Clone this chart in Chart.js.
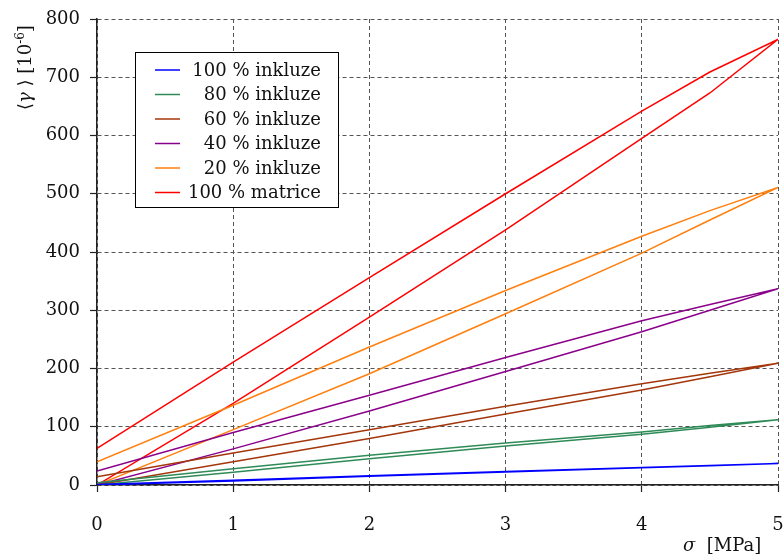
<!DOCTYPE html>
<html>
<head>
<meta charset="utf-8">
<script src="https://cdn.jsdelivr.net/npm/chart.js@4.4.1/dist/chart.umd.min.js"></script>
<style>
  html, body { margin: 0; padding: 0; background: #fff; }
  #wrap { width: 783px; height: 558px; position: relative; }
</style>
</head>
<body>
<div id="wrap"><canvas id="chart"></canvas></div>
<script>
// stress levels (MPa) where the loops were read
const sigma = [0, 1, 2, 3, 4, 4.5, 5];

// loading branch (lower) and unloading branch (upper), values in 1e-6
const inkluze100Load   = [0, 7, 15, 22.5, 29.5, 33, 37];
const inkluze100Unload = [1, 8, 16, 23, 30, 33.5, 37];
const inkluze80Load    = [0, 22, 45, 67, 87, 99, 112];
const inkluze80Unload  = [4, 28, 51, 72, 91, 102, 112];
const inkluze60Load    = [0, 40, 80, 122, 163, 186, 209];
const inkluze60Unload  = [14, 55, 95, 135, 174, 192, 209];
const inkluze40Load    = [0, 62, 127, 195, 263, 300, 337];
const inkluze40Unload  = [24, 90, 154, 219, 282, 310, 337];
const inkluze20Load    = [0, 95, 191, 294, 398, 455, 511];
const inkluze20Unload  = [40, 137, 237, 334, 427, 471, 511];
const matriceLoad      = [0, 140, 288, 438, 595, 673, 765];
const matriceUnload    = [63, 211, 356, 500, 642, 709, 765];

const labels = ['100 % inkluze', '80 % inkluze', '60 % inkluze', '40 % inkluze', '20 % inkluze', '100 % matrice'];
const colors = ['#0000ff', '#2e8b57', '#a3360b', '#8b008b', '#ff7f0e', '#ff0000'];
const loads = [inkluze100Load, inkluze80Load, inkluze60Load, inkluze40Load, inkluze20Load, matriceLoad];
const unloads = [inkluze100Unload, inkluze80Unload, inkluze60Unload, inkluze40Unload, inkluze20Unload, matriceUnload];

const xTicks = [0, 1, 2, 3, 4, 5];
const yTicks = [0, 100, 200, 300, 400, 500, 600, 700, 800];

const FONT = '"DejaVu Serif", serif';

function loop(load, unload) {
  const pts = sigma.map((s, i) => ({ x: s, y: load[i] }));
  for (let i = sigma.length - 2; i >= 0; i--) pts.push({ x: sigma[i], y: unload[i] });
  return pts;
}

const datasets = labels.map((label, i) => ({
  label,
  data: loop(loads[i], unloads[i]),
  borderColor: colors[i],
  borderWidth: 1.5,
  pointRadius: 0,
  showLine: true,
  fill: false,
}));

// legend box inside the plot + axis titles
const decorPlugin = {
  id: 'decor',
  afterDraw(chart) {
    const ctx = chart.ctx;
    ctx.save();
    // legend
    ctx.fillStyle = '#fff';
    ctx.fillRect(135.5, 52.5, 203, 155);
    ctx.strokeStyle = '#000';
    ctx.lineWidth = 1;
    ctx.strokeRect(135.5, 52.5, 203, 155);
    ctx.font = '18px ' + FONT;
    ctx.textAlign = 'right';
    ctx.textBaseline = 'middle';
    chart.data.datasets.forEach((ds, i) => {
      const y = 70 + i * 24.5;
      ctx.strokeStyle = ds.borderColor;
      ctx.lineWidth = 1.5;
      ctx.beginPath();
      ctx.moveTo(155, y);
      ctx.lineTo(180, y);
      ctx.stroke();
      ctx.fillStyle = '#111';
      ctx.fillText(ds.label, 321, y + 1);
    });

    // x title
    ctx.textAlign = 'left';
    ctx.textBaseline = 'alphabetic';
    ctx.fillStyle = '#111';
    ctx.font = 'italic 18px ' + FONT;
    const xs = 'σ';
    let x = 683;
    ctx.fillText(xs, x, 551);
    x += ctx.measureText(xs).width;
    ctx.font = '18px ' + FONT;
    ctx.fillText('  [MPa]', x, 551);

    // y title (rotated)
    ctx.translate(31, 110);
    ctx.rotate(-Math.PI / 2);
    const parts = [
      ['18px ' + FONT, '⟨', 0],
      ['italic 18px ' + FONT, 'γ', 0],
      ['18px ' + FONT, ' ⟩ [10', 0],
      ['12px ' + FONT, '-6', -7],
      ['18px ' + FONT, ']', 0],
    ];
    let px = 0;
    parts.forEach(([f, t, dy]) => {
      ctx.font = f;
      ctx.fillText(t, px, dy);
      px += ctx.measureText(t).width;
    });
    ctx.restore();
  },
};

new Chart(document.getElementById('chart'), {
  type: 'scatter',
  data: { datasets },
  plugins: [decorPlugin],
  options: {
    responsive: true,
    maintainAspectRatio: false,
    animation: false,
    layout: { padding: { left: 0, right: 5, top: 19, bottom: 0 } },
    plugins: { legend: { display: false }, tooltip: { enabled: false } },
    scales: {
      x: {
        type: 'linear',
        min: 0,
        max: 5,
        afterFit(scale) {
          scale.height = 73;
          scale.paddingLeft = 0;
          scale.paddingRight = 0;
        },
        afterBuildTicks(scale) { scale.ticks = xTicks.map(v => ({ value: v })); },
        ticks: {
          autoSkip: false,
          maxRotation: 0,
          padding: 23,
          color: '#111',
          font: { family: FONT, size: 18 },
        },
        grid: {
          color: '#555',
          lineWidth: 1,
          tickLength: 7,
          tickColor: '#222',
          tickWidth: 1.2,
        },
        border: { display: true, color: '#222', width: 1.5, dash: [4, 3] },
      },
      y: {
        type: 'linear',
        min: 0,
        max: 800,
        afterFit(scale) {
          scale.width = 97;
          scale.paddingTop = 0;
          scale.paddingBottom = 0;
        },
        afterBuildTicks(scale) { scale.ticks = yTicks.map(v => ({ value: v })); },
        ticks: {
          autoSkip: false,
          padding: 10,
          color: '#111',
          font: { family: FONT, size: 18 },
        },
        grid: {
          color: '#555',
          lineWidth: 1,
          tickLength: 7,
          tickColor: '#222',
          tickWidth: 1.2,
        },
        border: { display: true, color: '#222', width: 1.5, dash: [4, 3] },
      },
    },
  },
});
</script>
</body>
</html>
